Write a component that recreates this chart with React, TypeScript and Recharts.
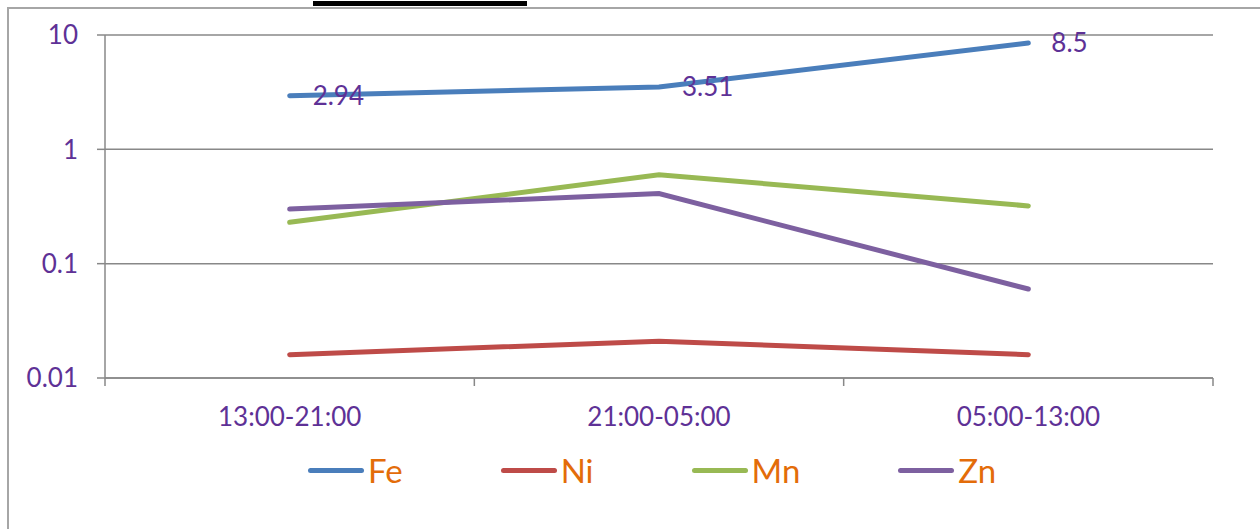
import React from 'react';
import { LineChart, Line, XAxis, YAxis, CartesianGrid, Legend, LabelList } from 'recharts';

const categories = ['13:00-21:00', '21:00-05:00', '05:00-13:00'];
const fe = [2.94, 3.51, 8.5];
const ni = [0.016, 0.021, 0.016];
const mn = [0.23, 0.6, 0.32];
const zn = [0.3, 0.41, 0.06];
const yTicks = [0.01, 0.1, 1, 10];

const series = [
  { key: 'Fe', color: '#4a7ebb' },
  { key: 'Ni', color: '#be4b48' },
  { key: 'Mn', color: '#98b954' },
  { key: 'Zn', color: '#7d60a0' },
];

const data = categories.map((name, i) => ({
  name,
  Fe: fe[i],
  Ni: ni[i],
  Mn: mn[i],
  Zn: zn[i],
}));

const W = 1260;
const H = 529;
const LEFT = 105;
const RIGHT = 47;
const band = (W - LEFT - RIGHT) / categories.length;

const purple = '#5e3196';
const gray = '#888888';
const font = 'Lato, "Open Sans", sans-serif';

function XTick({ x, y, payload, index }: any) {
  const half = band / 2;
  const axisY = y - 8;
  return (
    <g>
      <line x1={x - half} y1={axisY} x2={x - half} y2={axisY + 8} stroke={gray} strokeWidth={1.5} />
      {index === categories.length - 1 && (
        <line x1={x + half} y1={axisY} x2={x + half} y2={axisY + 8} stroke={gray} strokeWidth={1.5} />
      )}
      <text x={x} y={axisY + 30} dy="0.71em" textAnchor="middle" fill={purple} fontSize={26} fontFamily={font}>
        {payload.value}
      </text>
    </g>
  );
}

function FeLabel({ x, y, value }: any) {
  return (
    <text x={x + 23} y={y} dy="0.36em" fill={purple} fontSize={26} fontFamily={font}>
      {value}
    </text>
  );
}

function LegendContent() {
  return (
    <div style={{ display: 'flex', alignItems: 'center', height: 40, paddingLeft: 308, gap: 98 }}>
      {series.map((s) => (
        <div key={s.key} style={{ display: 'flex', alignItems: 'center' }}>
          <div style={{ width: 56, height: 5, borderRadius: 3, background: s.color, marginRight: 4 }} />
          <span style={{ color: '#e36c09', fontSize: 33, fontFamily: font, lineHeight: '40px' }}>{s.key}</span>
        </div>
      ))}
    </div>
  );
}

export default function App() {
  return (
    <div style={{ position: 'absolute', left: 0, top: 0, width: W, height: H, overflow: 'hidden', background: '#fff' }}>
      <div style={{ position: 'absolute', left: 313, top: 1, width: 214, height: 5, background: '#000' }} />
      <div
        style={{
          position: 'absolute',
          left: 7,
          top: 7,
          width: W,
          height: H,
          borderTop: '2px solid #a6a6a6',
          borderLeft: '2px solid #a6a6a6',
        }}
      />
      <div style={{ position: 'absolute', left: 0, top: 0 }}>
        <LineChart width={W} height={H} data={data} margin={{ top: 35, right: RIGHT, left: 0, bottom: 91 }}>
          <CartesianGrid vertical={false} stroke={gray} strokeWidth={1.5} />
          <XAxis
            dataKey="name"
            height={60}
            padding={{ left: band / 2, right: band / 2 }}
            axisLine={{ stroke: gray, strokeWidth: 1.5 }}
            tickLine={false}
            tickSize={8}
            tickMargin={0}
            tick={<XTick />}
            interval={0}
          />
          <YAxis
            width={LEFT}
            scale="log"
            domain={[0.01, 10]}
            ticks={yTicks}
            allowDataOverflow
            axisLine={{ stroke: gray, strokeWidth: 1.5 }}
            tickLine={{ stroke: gray, strokeWidth: 1.5 }}
            tickSize={8}
            tickMargin={19}
            tick={{ fill: purple, fontSize: 26, fontFamily: font }}
          />
          <Legend
            verticalAlign="middle"
            align="center"
            layout="horizontal"
            wrapperStyle={{ top: 450, left: 0, width: W }}
            content={<LegendContent />}
          />
          {series.map((s) => (
            <Line
              key={s.key}
              type="linear"
              dataKey={s.key}
              stroke={s.color}
              strokeWidth={5}
              strokeLinecap="round"
              dot={false}
              activeDot={false}
              isAnimationActive={false}
            >
              {s.key === 'Fe' && <LabelList dataKey="Fe" content={<FeLabel />} />}
            </Line>
          ))}
        </LineChart>
      </div>
    </div>
  );
}
